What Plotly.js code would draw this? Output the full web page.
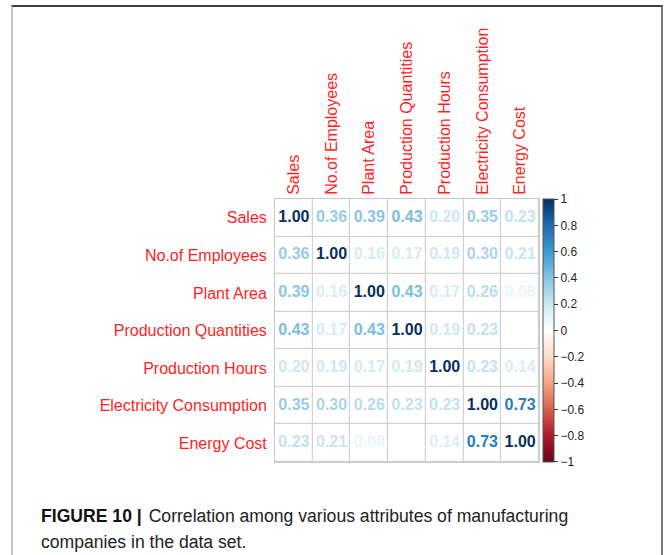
<!DOCTYPE html>
<html>
<head>
<meta charset="utf-8">
<script src="https://cdn.plot.ly/plotly-3.0.1.min.js"></script>
<style>
  html, body { margin: 0; padding: 0; width: 664px; height: 555px; overflow: hidden; background: #fff; }
  #frame { position: absolute; left: 11px; top: 5px; width: 648px; height: 620px;
           border-top: 2px solid #3c3c3c; border-left: 2px solid #c4c4c4; border-right: 2px solid #7a7a7a; }
  #chart { position: absolute; left: 0; top: 24px; width: 664px; height: 462px; }
  #caption { position: absolute; left: 41px; top: 503px; width: 610px; white-space: nowrap;
             font-family: "Liberation Sans", Arial, sans-serif; font-size: 17.6px; line-height: 26px; color: #222; }
  #caption b { font-weight: bold; color: #111; margin-right: 2px; }
</style>
</head>
<body>
<div id="frame"></div>
<div id="chart"></div>
<div id="caption"><b>FIGURE 10 |</b> Correlation among various attributes of manufacturing<br>companies in the data set.</div>
<script>
// Attribute names (rows and columns of the correlation matrix)
const attributes = [
  "Sales",
  "No.of Employees",
  "Plant Area",
  "Production Quantities",
  "Production Hours",
  "Electricity Consumption",
  "Energy Cost"
];

// Pairwise correlations, one array per row
const rowSales        = [1.00, 0.36, 0.39, 0.43, 0.20, 0.35, 0.23];
const rowEmployees    = [0.36, 1.00, 0.16, 0.17, 0.19, 0.30, 0.21];
const rowPlantArea    = [0.39, 0.16, 1.00, 0.43, 0.17, 0.26, 0.08];
const rowQuantities   = [0.43, 0.17, 0.43, 1.00, 0.19, 0.23, 0.00];
const rowHours        = [0.20, 0.19, 0.17, 0.19, 1.00, 0.23, 0.14];
const rowElectricity  = [0.35, 0.30, 0.26, 0.23, 0.23, 1.00, 0.73];
const rowEnergyCost   = [0.23, 0.21, 0.08, 0.00, 0.14, 0.73, 1.00];

// Colour bar tick values
const barTicks = [-1, -0.8, -0.6, -0.4, -0.2, 0, 0.2, 0.4, 0.6, 0.8, 1];

const corr = [rowSales, rowEmployees, rowPlantArea, rowQuantities, rowHours, rowElectricity, rowEnergyCost];

// Diverging red-white-blue palette from -1 to 1
const palette = ["#67001F", "#B2182B", "#D6604D", "#F4A582", "#FDDBC7", "#FFFFFF",
                 "#CDE7F4", "#86C4E3", "#3A9AD0", "#1F6CB4", "#053061"];
const colorscale = palette.map((c, i) => [i / (palette.length - 1), c]);

function hexToRgb(h) {
  return [parseInt(h.slice(1, 3), 16), parseInt(h.slice(3, 5), 16), parseInt(h.slice(5, 7), 16)];
}
function colorFor(v) {
  const t = (v + 1) / 2;
  for (let i = 0; i < colorscale.length - 1; i++) {
    const [t0, c0] = colorscale[i];
    const [t1, c1] = colorscale[i + 1];
    if (t >= t0 && t <= t1) {
      const f = (t - t0) / (t1 - t0);
      const a = hexToRgb(c0), b = hexToRgb(c1);
      const rgb = a.map((x, k) => Math.round(x + (b[k] - x) * f));
      return `rgb(${rgb[0]},${rgb[1]},${rgb[2]})`;
    }
  }
  return palette[palette.length - 1];
}

// Flatten the matrix for the text layer
const xs = [], ys = [], vals = [], labels = [], colors = [];
corr.forEach((row, r) => {
  row.forEach((v, c) => {
    xs.push(attributes[c]);
    ys.push(attributes[r]);
    vals.push(v);
    labels.push(v.toFixed(2));
    colors.push(colorFor(v));
  });
});

const fontFamily = '"Liberation Sans", Arial, Helvetica, sans-serif';

// White cells separated by thin grey lines
const cells = {
  type: "heatmap",
  x: attributes,
  y: attributes,
  z: corr,
  colorscale: [[0, "#ffffff"], [1, "#ffffff"]],
  showscale: false,
  xgap: 1.2,
  ygap: 1.2,
  hoverinfo: "skip"
};

// Coefficient labels, coloured by value, carrying the colour bar
const numbers = {
  type: "scatter",
  mode: "markers+text",
  x: xs,
  y: ys,
  text: labels,
  textposition: "middle center",
  textfont: { family: fontFamily, size: 16, color: colors, weight: "bold" },
  marker: {
    size: 1,
    opacity: 0,
    color: vals,
    colorscale: colorscale,
    cmin: -1.001,
    cmax: 1.001,
    showscale: true,
    colorbar: {
      x: 1.015,
      xanchor: "left",
      xpad: 0,
      y: 1,
      yanchor: "top",
      ypad: 0,
      len: 263,
      lenmode: "pixels",
      thickness: 11,
      thicknessmode: "pixels",
      outlinecolor: "#555",
      outlinewidth: 1,
      ticks: "outside",
      ticklen: 4,
      tickwidth: 1,
      tickcolor: "#333",
      tickvals: barTicks,
      tickfont: { family: fontFamily, size: 12, color: "#222" }
    }
  },
  hoverinfo: "skip"
};

const layout = {
  width: 664,
  height: 462,
  margin: { l: 275, r: 125, t: 175, b: 24, pad: 0 },
  paper_bgcolor: "rgba(0,0,0,0)",
  plot_bgcolor: "#d2d2d2",
  showlegend: false,
  xaxis: {
    type: "category",
    side: "top",
    tickangle: -90,
    ticks: "",
    showgrid: false,
    zeroline: false,
    showline: true,
    mirror: true,
    linecolor: "#c8c8c8",
    linewidth: 1,
    tickfont: { family: fontFamily, size: 16, color: "#ff1f1f" },
    range: [-0.5, 6.5]
  },
  yaxis: {
    type: "category",
    autorange: "reversed",
    ticks: "",
    ticklabelstandoff: 4,
    showgrid: false,
    zeroline: false,
    showline: true,
    mirror: true,
    linecolor: "#c8c8c8",
    linewidth: 1,
    tickfont: { family: fontFamily, size: 16, color: "#ff1f1f" }
  }
};

Plotly.newPlot("chart", [cells, numbers], layout, { staticPlot: true, displayModeBar: false });
</script>
</body>
</html>
